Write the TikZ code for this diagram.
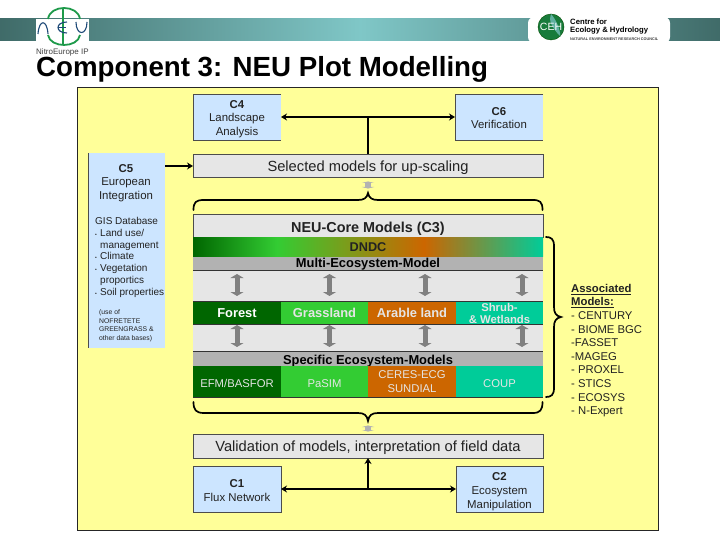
\documentclass[tikz,border=0pt]{standalone}
\usepackage{fontspec}
\setmainfont{Liberation Sans}
\usetikzlibrary{arrows.meta}
\definecolor{panel}{HTML}{FFFF99}
\definecolor{bluebox}{HTML}{CCE5FF}
\definecolor{lightg}{HTML}{E6E6E6}
\definecolor{midg}{HTML}{B2B2B2}
\definecolor{dkgreen}{HTML}{006600}
\definecolor{ltgreen}{HTML}{33CC33}
\definecolor{orng}{HTML}{CC6600}
\definecolor{teal2}{HTML}{00CC99}
\definecolor{arrowg}{HTML}{808080}
\definecolor{txt}{HTML}{222222}
\definecolor{logog}{HTML}{1E9A4A}
\definecolor{logob}{HTML}{1F4A78}
\definecolor{cehteal}{HTML}{5FAF9F}
\pgfdeclarehorizontalshading{dndcshade}{100bp}{rgb(0bp)=(0,0.4,0); rgb(25bp)=(0,0.4,0); rgb(37bp)=(0.2,0.8,0.2); rgb(58bp)=(0.8,0.4,0); rgb(75bp)=(0,0.8,0.6); rgb(100bp)=(0,0.8,0.6)}
\pgfdeclarehorizontalshading{bandshade}{100bp}{rgb(0bp)=(0.25,0.42,0.41); rgb(25bp)=(0.25,0.42,0.41); rgb(50bp)=(0.5,0.78,0.78); rgb(75bp)=(0.25,0.42,0.41); rgb(100bp)=(0.25,0.42,0.41)}
\tikzset{
 x=1pt,y=-1pt,
 rowbox/.style={fill=#1,inner sep=0pt,outer sep=0pt,align=center},
 thin1/.style={draw=black!70,line width=0.5pt},
 thick1/.style={line width=2.4pt,black},
 thick2/.style={line width=2pt,black},
 bigtip/.style={-{Stealth[length=6pt,width=7pt]}},
 bothtip/.style={{Stealth[length=6pt,width=7pt]}-{Stealth[length=6pt,width=7pt]}},
 greyarrow/.style={{Triangle[length=4pt,width=13pt]}-{Triangle[length=4pt,width=13pt]},line width=5pt,arrowg},
 tinyarrow/.style={{Triangle[length=1.5pt,width=12pt]}-{Triangle[length=1.5pt,width=12pt]},line width=6pt,midg},
 bracel/.style={line width=1.7pt,black,line cap=round},
 bl/.style={font=\fontsize{11.4}{13.6}\selectfont,text=txt},
 wideb/.style={font=\fontsize{14.7}{16}\selectfont,text=txt},
 habbr/.style={font=\bfseries\fontsize{12.9}{14}\selectfont},
 mcell/.style={font=\fontsize{11.3}{14}\selectfont,text=white!90!black},
}
\newcommand{\bul}{\makebox[5pt][l]{\tiny\textbullet}}
\newcommand{\dn}[1]{\rule{0pt}{#1pt}}
\begin{document}
\begin{tikzpicture}
\useasboundingbox (0,0) rectangle (720,540);
\fill[white] (0,0) rectangle (720,540);
% header band
\node[shading=bandshade,minimum width=720pt,minimum height=22pt,inner sep=0pt,outer sep=0pt,anchor=north west] (band) at (0,19) {};
\fill[white] (36,19) rectangle (89,41);
\fill[white,rounded corners=6pt] (528,17) rectangle (670,43);
% NEU logo
\draw[logog,line width=1.8pt] (48,19) .. controls (50,4.3) and (78,4.3) .. (80,19);
\draw[logog,line width=1.8pt] (48,35) .. controls (50,48.3) and (78,48.3) .. (80,35);
\draw[logog,line width=1.2pt] (63,8) -- (63,45);
\draw[logob,line width=1.1pt] (38,34) .. controls (39,19) and (47,19) .. (48,34);
\draw[logob,line width=1.1pt] (76,22) .. controls (76,36) and (87,36) .. (87,22);
\draw[logob,line width=1.1pt] (67,22) .. controls (55,22) and (55,33) .. (67,33);
\draw[logob,line width=1.1pt] (58,27.5) -- (66,27.5);
\node[anchor=west,inner sep=0pt,font=\fontsize{8}{9}\selectfont,text=black!75] (nlabel) at (36,52) {NitroEurope IP};
% CEH logo
\node[circle,fill=logog!80!black,draw=green!30!black,minimum size=26pt,inner sep=0pt] (ceh) at (551,27) {};
\fill[cehteal] (ceh.north) .. controls (556,20) and (560,28) .. (ceh.south east) .. controls (552,28) and (548,20) .. (ceh.north);
\node[text=white,font=\fontsize{10.5}{11}\selectfont,inner sep=0pt] (cehl) at (ceh.center) {CEH};
\node[anchor=north west,inner sep=0pt,align=left,font=\bfseries\fontsize{7.7}{8.4}\selectfont,text=black] (cehname) at (570,18.5) {Centre for\\Ecology \& Hydrology};
\node[anchor=west,inner sep=0pt,font=\bfseries\fontsize{3.8}{4}\selectfont,text=black!75] (nerc) at (570,39) {NATURAL ENVIRONMENT RESEARCH COUNCIL};
% title
\node[anchor=base west,inner sep=0pt,font=\bfseries\fontsize{27.7}{30}\selectfont] (title) at (36,77) {Component 3: NEU Plot Modelling};
% panel
\node[fill=panel,draw=black!85,line width=0.8pt,minimum width=581pt,minimum height=443pt,inner sep=0pt,outer sep=0pt,anchor=north west] (panelbox) at (77,87) {};
% C4 C6
\node[rowbox=bluebox,bl,minimum width=88pt,minimum height=46pt,anchor=north west] (c4) at (193,94) {\dn{12.3}\textbf{C4}\\Landscape\\Analysis};
\node[rowbox=bluebox,bl,minimum width=88pt,minimum height=46pt,anchor=north west] (c6) at (455,94) {\dn{10.3}\textbf{C6}\\Verification};
\draw[thin1] (c4.north east) -- (c4.north west) -- (c4.south west) -- (c4.south east);
\draw[thin1] (c6.north east) -- (c6.north west) -- (c6.south west) -- (c6.south east);
% C5
\node[rowbox=bluebox,minimum width=77pt,minimum height=195pt,anchor=north west] (c5) at (88,153) {};
\draw[thin1] (c5.north west) -- (c5.south west);
\node[anchor=north,inner sep=0pt,align=center,bl] (c5t) at (126,164) {\textbf{C5}\\European\\Integration};
\node[anchor=north west,inner sep=0pt,align=left,font=\fontsize{10}{11.8}\selectfont,text=txt] (c5g) at (95,217) {GIS Database\\\bul Land use/\\\hspace*{5pt}management\\\bul Climate\\\bul Vegetation\\\hspace*{5pt}proportics\\\bul Soil properties};
\node[anchor=north west,inner sep=0pt,align=left,font=\fontsize{6.8}{8.9}\selectfont,text=txt] (c5s) at (99,309) {(use of\\NOFRETETE\\GREENGRASS \&\\other data bases)};
% selected
\node[rowbox=lightg,thin1,wideb,minimum width=350pt,minimum height=23pt,anchor=north west] (sel) at (193,154.5) {\dn{14.7}Selected models for up-scaling};
% core
\node[rowbox=lightg,thin1,minimum width=350pt,minimum height=23pt,anchor=north west,font=\bfseries\fontsize{14.4}{16}\selectfont,text=txt] (core) at (193,214.5) {\dn{15.2}NEU-Core Models (C3)};
\node[shading=dndcshade,inner sep=0pt,outer sep=0pt,minimum width=350pt,minimum height=19pt,anchor=north west,font=\bfseries\fontsize{12.7}{14}\selectfont,text=txt] (dndc) at (193,237.5) {DNDC};
\node[rowbox=midg,habbr,minimum width=350pt,minimum height=13.5pt,anchor=north west,text=black] (multi) at (193,256.5) {\dn{11}Multi-Ecosystem-Model};
\node[rowbox=lightg,minimum width=350pt,minimum height=31pt,anchor=north west] (gap1) at (193,270) {};
\node[rowbox=dkgreen,habbr,minimum width=88pt,minimum height=23pt,anchor=north west,text=white] (forest) at (193,301) {\dn{13}Forest\rule[-2.7pt]{0pt}{1pt}};
\node[rowbox=ltgreen,habbr,minimum width=87pt,minimum height=23pt,anchor=north west,text=white!90!black] (grass) at (281,301) {\dn{13}Grassland\rule[-2.7pt]{0pt}{1pt}};
\node[rowbox=orng,habbr,minimum width=88pt,minimum height=23pt,anchor=north west,text=white!90!black] (arable) at (368,301) {\dn{13}Arable land\rule[-2.7pt]{0pt}{1pt}};
\node[rowbox=teal2,minimum width=87pt,minimum height=23pt,anchor=north west,font=\bfseries\fontsize{11.3}{12}\selectfont,text=white!90!black] (shrub) at (456,301) {\dn{10.2}Shrub-\\\& Wetlands};
\node[rowbox=lightg,minimum width=350pt,minimum height=27pt,anchor=north west] (gap2) at (193,324) {};
\node[rowbox=midg,habbr,minimum width=350pt,minimum height=15pt,anchor=north west,text=black] (spec) at (193,351) {\dn{13}Specific Ecosystem-Models};
\node[rowbox=dkgreen,mcell,minimum width=88pt,minimum height=31pt,anchor=north west] (efm) at (193,366) {\dn{11.2}EFM/BASFOR};
\node[rowbox=ltgreen,mcell,minimum width=87pt,minimum height=31pt,anchor=north west] (pasim) at (281,366) {\dn{11.2}PaSIM};
\node[rowbox=orng,mcell,minimum width=88pt,minimum height=31pt,anchor=north west] (ceres) at (368,366) {CERES-ECG\\SUNDIAL};
\node[rowbox=teal2,mcell,minimum width=87pt,minimum height=31pt,anchor=north west] (coup) at (456,366) {\dn{11.2}COUP};
% row lines
\draw[black!80,line width=0.6pt] (forest.north west) -- (shrub.north east);
\draw[black!80,line width=0.6pt] (forest.south west) -- (shrub.south east);
\draw[black!80,line width=0.6pt] (gap1.north west) -- (gap1.north east);
\draw[black!80,line width=0.6pt] (spec.north west) -- (spec.north east);
\draw[black!80,line width=0.6pt] (efm.south west) -- (coup.south east);
% grey arrows
\foreach \n/\xx in {forest/237,grass/329.5,arable/425,shrub/522}{
 \coordinate (a\n) at (\xx,274);
 \coordinate (b\n) at (\xx,296);
 \coordinate (c\n) at (\xx,325);
 \coordinate (d\n) at (\xx,347);
 \draw[greyarrow] (a\n) -- (b\n);
 \draw[greyarrow] (c\n) -- (d\n);
}
% validation and C1 C2
\node[rowbox=lightg,thin1,wideb,minimum width=350pt,minimum height=24pt,anchor=north west] (val) at (193,434) {\dn{14.7}Validation of models, interpretation of field data};
\node[rowbox=bluebox,thin1,bl,minimum width=88pt,minimum height=46pt,anchor=north west] (c1) at (193,466) {\dn{11.3}\textbf{C1}\\Flux Network};
\node[rowbox=bluebox,thin1,bl,minimum width=87pt,minimum height=46pt,anchor=north west] (c2) at (456,466) {\dn{13.3}\textbf{C2}\\Ecosystem\\Manipulation};
% connectors top
\draw[thick1,bothtip] (c4.east) -- (c6.west);
\coordinate (topj) at (368,117);
\draw[thick2] (topj) -- (sel.north -| topj);
\draw[thick2,bigtip] (c5.north east |- sel.west) -- (sel.west);
% connectors bottom
\draw[thick2,bothtip] (c1.east) -- (c2.west);
\coordinate (botj) at (368,489);
\draw[thick2,bigtip] (botj) -- (val.south -| botj);
% small arrows
\coordinate (s1) at (368,181.5); \coordinate (s2) at (368,188.5);
\draw[tinyarrow] (s1) -- (s2);
\coordinate (s3) at (368,425.5); \coordinate (s4) at (368,431.5);
\draw[tinyarrow] (s3) -- (s4);
% braces
\draw[bracel] (193.5,210) .. controls (193.5,202) and (196,200) .. (204,200) -- (358,200) .. controls (364,200) and (367,198) .. (368,193) .. controls (369,198) and (372,200) .. (378,200) -- (533,200) .. controls (540,200) and (542.5,202) .. (542.5,210);
\draw[bracel] (193.5,402) .. controls (193.5,410) and (196,413) .. (204,413) -- (358,413) .. controls (364,413) and (367,415) .. (368,421) .. controls (369,415) and (372,413) .. (378,413) -- (533,413) .. controls (540,413) and (542.5,410) .. (542.5,402);
\draw[bracel] (546,237) .. controls (551,237) and (554,239) .. (554,246) -- (554,307) .. controls (554,313) and (556,316) .. (561,317) .. controls (556,318) and (554,321) .. (554,327) -- (554,388) .. controls (554,395) and (551,397) .. (546,397);
% list
\node[anchor=north west,inner sep=0pt,align=left,font=\fontsize{11.3}{13.6}\selectfont,text=txt] (assoc) at (571,284) {\textbf{\underline{Associated}}\\\textbf{\underline{Models:}}\\- CENTURY\\- BIOME BGC\\-FASSET\\-MAGEG\\- PROXEL\\- STICS\\- ECOSYS\\- N-Expert};
\end{tikzpicture}
\end{document}
